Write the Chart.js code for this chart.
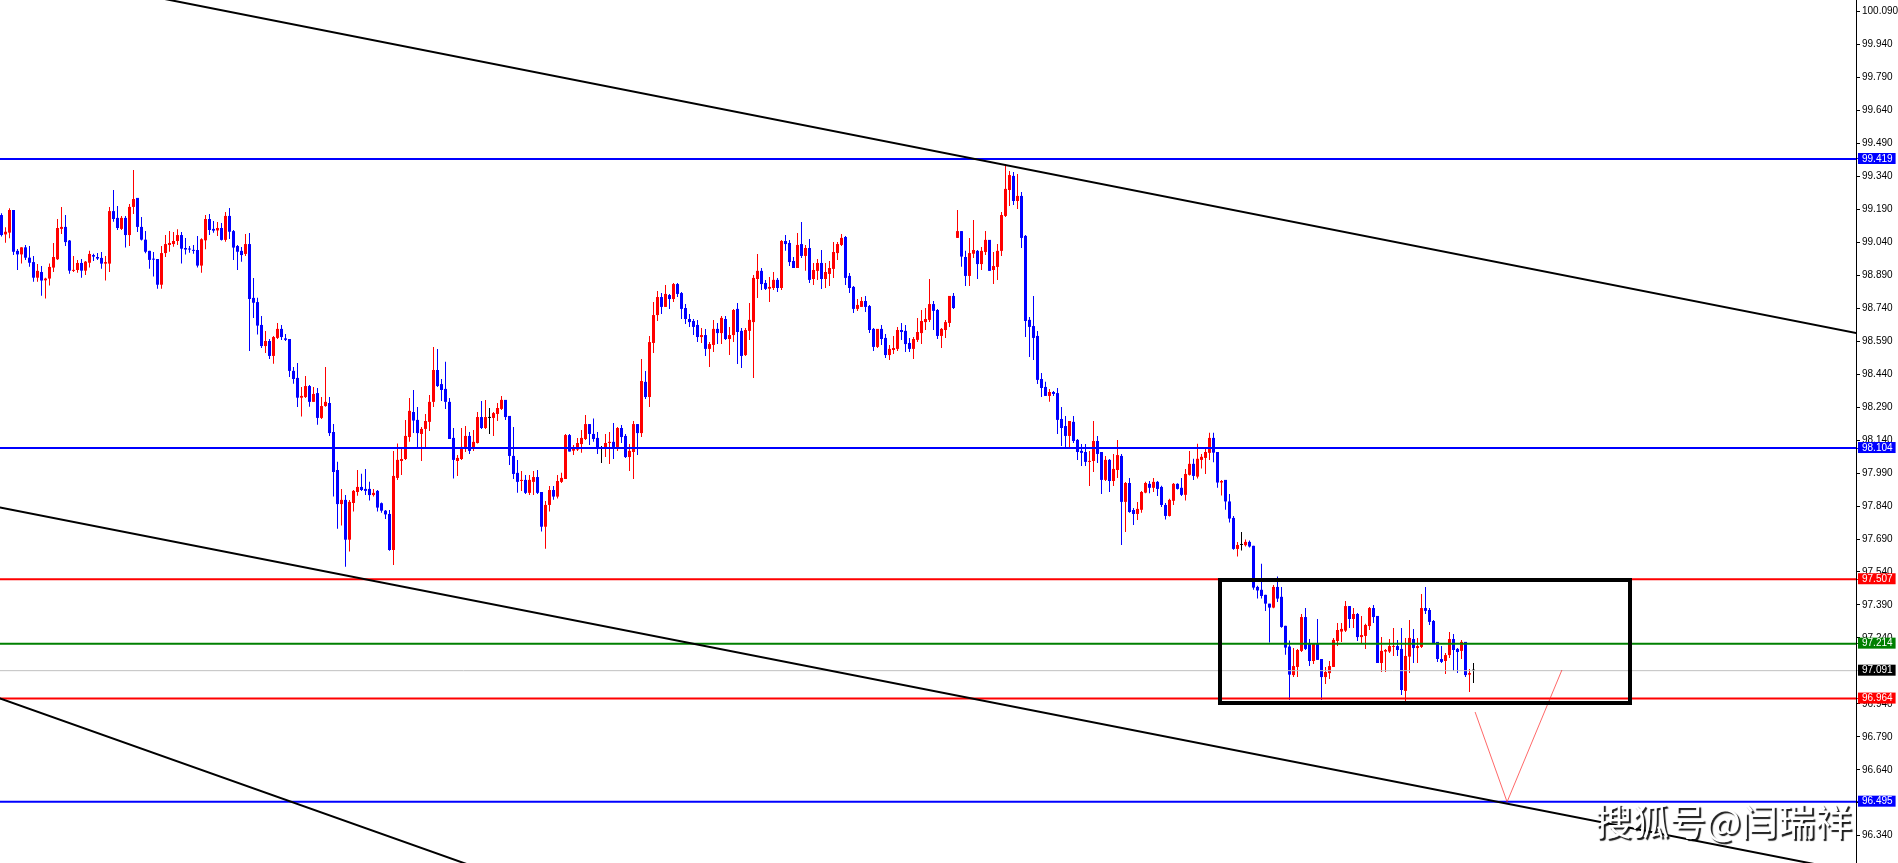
<!DOCTYPE html>
<html>
<head>
<meta charset="utf-8">
<script src="https://cdn.jsdelivr.net/npm/chart.js@4.4.1/dist/chart.umd.min.js"></script>
<style>
  html, body { margin: 0; padding: 0; background: #fff; }
  #wrap { width: 1898px; height: 863px; position: relative; }
</style>
</head>
<body>
<div id="wrap"><canvas id="priceChart"></canvas></div>
<script>
  // candles (price units)
  const opens = [
    99.164, 99.076, 99.084, 99.187, 99.001, 98.985, 99.017, 98.970, 98.950, 98.879,
    98.905, 98.867, 98.875, 98.925, 98.963, 99.101, 99.110, 99.048, 98.910, 98.914,
    98.946, 98.911, 98.947, 98.982, 98.973, 98.969, 98.943, 98.943, 99.182, 99.151,
    99.101, 99.151, 99.073, 99.201, 99.242, 99.110, 99.052, 99.001, 98.964, 98.964,
    98.847, 98.991, 99.028, 99.032, 99.046, 99.073, 99.014, 99.010, 99.005, 99.005,
    98.934, 99.049, 99.146, 99.101, 99.094, 99.105, 99.051, 99.160, 99.091, 99.023,
    99.001, 98.987, 99.032, 98.787, 98.768, 98.664, 98.568, 98.591, 98.523, 98.605,
    98.646, 98.603, 98.600, 98.455, 98.423, 98.333, 98.336, 98.386, 98.314, 98.354,
    98.241, 98.295, 98.309, 98.177, 98.004, 97.849, 97.868, 97.687, 97.854, 97.904,
    97.927, 97.918, 97.918, 97.890, 97.909, 97.853, 97.819, 97.804, 97.640, 97.968,
    98.045, 98.054, 98.154, 98.268, 98.232, 98.168, 98.191, 98.223, 98.314, 98.459,
    98.395, 98.373, 98.314, 98.150, 98.045, 98.054, 98.104, 98.159, 98.100, 98.127,
    98.245, 98.195, 98.241, 98.241, 98.259, 98.282, 98.323, 98.250, 98.068, 97.991,
    97.954, 97.959, 97.900, 97.950, 97.972, 97.904, 97.746, 97.845, 97.913, 97.883,
    97.950, 97.963, 98.163, 98.092, 98.097, 98.122, 98.145, 98.213, 98.168, 98.150,
    98.100, 98.100, 98.127, 98.132, 98.109, 98.195, 98.159, 98.063, 98.086, 98.213,
    98.172, 98.405, 98.336, 98.582, 98.709, 98.791, 98.746, 98.800, 98.782, 98.850,
    98.809, 98.741, 98.691, 98.682, 98.664, 98.609, 98.618, 98.555, 98.573, 98.646,
    98.627, 98.691, 98.600, 98.618, 98.737, 98.637, 98.527, 98.637, 98.677, 98.873,
    98.910, 98.855, 98.829, 98.832, 98.869, 98.832, 99.046, 99.037, 98.955, 98.923,
    99.032, 98.978, 99.014, 98.873, 98.910, 98.946, 98.873, 98.896, 98.919, 98.991,
    99.028, 99.064, 98.887, 98.837, 98.737, 98.746, 98.773, 98.750, 98.646, 98.564,
    98.646, 98.605, 98.527, 98.550, 98.555, 98.641, 98.637, 98.582, 98.555, 98.596,
    98.627, 98.677, 98.687, 98.759, 98.732, 98.614, 98.641, 98.673, 98.796, 99.060,
    99.091, 98.973, 98.887, 98.988, 99.001, 98.941, 98.996, 99.051, 98.914, 98.928,
    99.001, 99.160, 99.278, 99.342, 99.228, 99.251, 99.069, 98.687, 98.659, 98.614,
    98.418, 98.382, 98.341, 98.359, 98.354, 98.236, 98.204, 98.159, 98.223, 98.141,
    98.091, 98.086, 98.041, 98.045, 98.136, 98.086, 97.959, 98.050, 97.954, 98.004,
    98.068, 97.859, 97.945, 97.822, 97.804, 97.823, 97.901, 97.941, 97.923, 97.950,
    97.927, 97.845, 97.795, 97.864, 97.941, 97.923, 97.891, 97.982, 98.032, 97.974,
    98.050, 98.059, 98.082, 98.150, 98.086, 97.947, 97.959, 97.861, 97.786, 97.645,
    97.663, 97.662, 97.677, 97.659, 97.472, 97.459, 97.436, 97.396, 97.378, 97.472,
    97.427, 97.295, 97.201, 97.071, 97.108, 97.181, 97.335, 97.217, 97.135, 97.217,
    97.144, 97.062, 97.080, 97.108, 97.226, 97.269, 97.273, 97.385, 97.326, 97.349,
    97.244, 97.249, 97.294, 97.376, 97.340, 97.126, 97.178, 97.178, 97.199, 97.203,
    97.190, 96.999, 97.155, 97.235, 97.194, 97.199, 97.376, 97.367, 97.317, 97.222,
    97.144, 97.135, 97.162, 97.235, 97.190, 97.181, 97.222, 97.073, 97.091
  ]

  const highs = [
    99.172, 99.108, 99.195, 99.187, 99.010, 99.017, 99.028, 99.023, 98.978, 98.941,
    98.932, 98.879, 98.944, 99.037, 99.146, 99.201, 99.164, 99.051, 98.978, 98.960,
    98.964, 98.955, 99.001, 98.988, 98.991, 98.996, 98.978, 99.201, 99.278, 99.205,
    99.160, 99.160, 99.214, 99.369, 99.242, 99.155, 99.091, 99.001, 98.996, 98.964,
    99.023, 99.073, 99.091, 99.087, 99.099, 99.087, 99.060, 99.023, 99.028, 99.069,
    99.058, 99.164, 99.169, 99.137, 99.132, 99.128, 99.178, 99.196, 99.096, 99.028,
    99.019, 99.078, 99.082, 98.878, 98.788, 98.705, 98.637, 98.600, 98.614, 98.673,
    98.664, 98.623, 98.600, 98.473, 98.491, 98.382, 98.432, 98.391, 98.382, 98.377,
    98.336, 98.473, 98.336, 98.213, 98.042, 97.918, 97.890, 97.868, 97.913, 98.004,
    97.987, 98.009, 97.951, 97.918, 97.913, 97.856, 97.822, 97.822, 98.091, 98.125,
    98.109, 98.232, 98.332, 98.368, 98.291, 98.200, 98.259, 98.345, 98.564, 98.555,
    98.418, 98.496, 98.332, 98.195, 98.072, 98.195, 98.204, 98.177, 98.186, 98.268,
    98.318, 98.323, 98.286, 98.268, 98.309, 98.341, 98.323, 98.250, 98.200, 98.050,
    98.000, 97.981, 97.981, 98.000, 98.004, 97.904, 97.863, 97.931, 97.931, 97.981,
    97.991, 98.168, 98.168, 98.118, 98.150, 98.186, 98.254, 98.213, 98.238, 98.177,
    98.113, 98.168, 98.177, 98.218, 98.200, 98.209, 98.168, 98.122, 98.227, 98.213,
    98.509, 98.455, 98.614, 98.768, 98.819, 98.809, 98.846, 98.805, 98.855, 98.855,
    98.814, 98.759, 98.714, 98.691, 98.687, 98.650, 98.646, 98.586, 98.687, 98.673,
    98.705, 98.705, 98.655, 98.737, 98.764, 98.650, 98.650, 98.764, 98.891, 98.987,
    98.923, 98.869, 98.882, 98.905, 98.878, 99.051, 99.073, 99.051, 98.973, 99.082,
    99.132, 99.028, 99.055, 98.946, 98.964, 99.005, 98.946, 98.955, 99.041, 99.041,
    99.078, 99.069, 98.900, 98.841, 98.782, 98.791, 98.796, 98.755, 98.650, 98.646,
    98.664, 98.623, 98.573, 98.614, 98.655, 98.673, 98.664, 98.605, 98.609, 98.696,
    98.732, 98.741, 98.873, 98.773, 98.737, 98.650, 98.687, 98.796, 98.809, 99.187,
    99.091, 99.001, 99.060, 99.142, 99.005, 99.019, 99.091, 99.051, 98.996, 99.032,
    99.178, 99.396, 99.364, 99.360, 99.351, 99.269, 99.073, 98.700, 98.796, 98.637,
    98.445, 98.405, 98.373, 98.364, 98.377, 98.291, 98.250, 98.227, 98.250, 98.145,
    98.122, 98.122, 98.091, 98.227, 98.159, 98.086, 98.068, 98.054, 98.077, 98.141,
    98.077, 97.950, 97.968, 97.831, 97.859, 97.909, 97.951, 97.954, 97.968, 97.954,
    97.932, 97.854, 97.873, 97.945, 97.944, 97.968, 98.009, 98.091, 98.055, 98.123,
    98.077, 98.105, 98.173, 98.173, 98.086, 97.959, 97.959, 97.895, 97.795, 97.677,
    97.722, 97.688, 97.683, 97.659, 97.477, 97.577, 97.436, 97.396, 97.481, 97.519,
    97.472, 97.295, 97.228, 97.194, 97.190, 97.349, 97.376, 97.235, 97.217, 97.326,
    97.144, 97.108, 97.135, 97.240, 97.308, 97.308, 97.408, 97.385, 97.376, 97.353,
    97.340, 97.304, 97.381, 97.390, 97.340, 97.244, 97.190, 97.235, 97.285, 97.231,
    97.285, 97.240, 97.322, 97.281, 97.240, 97.440, 97.472, 97.376, 97.322, 97.222,
    97.203, 97.172, 97.267, 97.258, 97.194, 97.231, 97.222, 97.099, 97.126
  ]

  const lows = [
    99.066, 99.038, 99.058, 98.982, 98.914, 98.943, 98.960, 98.929, 98.861, 98.861,
    98.797, 98.784, 98.843, 98.905, 98.960, 99.078, 99.023, 98.897, 98.905, 98.902,
    98.879, 98.891, 98.925, 98.955, 98.960, 98.920, 98.866, 98.905, 99.134, 99.096,
    99.096, 99.016, 99.023, 99.169, 99.087, 99.048, 98.990, 98.920, 98.884, 98.829,
    98.829, 98.973, 98.997, 99.020, 99.028, 98.943, 98.984, 98.993, 98.988, 98.925,
    98.902, 99.008, 99.073, 99.084, 99.069, 99.048, 99.043, 99.055, 98.960, 98.914,
    98.952, 98.978, 98.546, 98.696, 98.620, 98.559, 98.536, 98.509, 98.488, 98.600,
    98.596, 98.591, 98.427, 98.397, 98.291, 98.247, 98.332, 98.292, 98.314, 98.210,
    98.236, 98.292, 98.159, 97.883, 97.737, 97.751, 97.564, 97.633, 97.815, 97.887,
    97.909, 97.890, 97.865, 97.883, 97.815, 97.810, 97.781, 97.637, 97.572, 97.959,
    97.981, 98.050, 98.132, 98.172, 98.104, 98.045, 98.104, 98.182, 98.291, 98.382,
    98.318, 98.282, 98.145, 97.965, 97.977, 98.050, 98.086, 98.077, 98.091, 98.125,
    98.191, 98.191, 98.168, 98.159, 98.227, 98.277, 98.232, 98.027, 97.963, 97.900,
    97.909, 97.895, 97.890, 97.890, 97.895, 97.724, 97.646, 97.815, 97.869, 97.874,
    97.945, 97.963, 98.088, 98.072, 98.091, 98.082, 98.141, 98.118, 98.132, 98.077,
    98.036, 98.063, 98.031, 98.054, 98.091, 98.127, 98.059, 98.000, 97.963, 98.072,
    98.154, 98.327, 98.291, 98.536, 98.682, 98.714, 98.746, 98.737, 98.768, 98.791,
    98.691, 98.668, 98.655, 98.618, 98.586, 98.582, 98.523, 98.473, 98.541, 98.577,
    98.577, 98.596, 98.527, 98.586, 98.486, 98.468, 98.523, 98.596, 98.423, 98.787,
    98.823, 98.823, 98.768, 98.823, 98.814, 98.823, 99.001, 98.932, 98.923, 98.923,
    98.969, 98.910, 98.855, 98.846, 98.869, 98.828, 98.832, 98.841, 98.878, 98.960,
    99.023, 98.846, 98.809, 98.718, 98.728, 98.746, 98.723, 98.627, 98.546, 98.559,
    98.573, 98.514, 98.505, 98.532, 98.546, 98.596, 98.541, 98.541, 98.509, 98.586,
    98.577, 98.641, 98.677, 98.641, 98.600, 98.559, 98.605, 98.655, 98.737, 99.060,
    98.929, 98.841, 98.841, 98.969, 98.873, 98.914, 98.982, 98.910, 98.850, 98.869,
    98.978, 99.155, 99.205, 99.210, 99.192, 99.014, 98.609, 98.518, 98.505, 98.395,
    98.336, 98.341, 98.314, 98.341, 98.168, 98.113, 98.104, 98.104, 98.127, 98.050,
    98.022, 98.022, 97.931, 97.995, 98.036, 97.895, 97.954, 97.904, 97.931, 97.968,
    97.663, 97.722, 97.809, 97.754, 97.777, 97.810, 97.898, 97.898, 97.904, 97.886,
    97.836, 97.779, 97.792, 97.845, 97.915, 97.886, 97.865, 97.979, 97.959, 97.965,
    98.011, 97.986, 98.050, 98.039, 97.923, 97.888, 97.823, 97.765, 97.641, 97.610,
    97.638, 97.656, 97.651, 97.459, 97.419, 97.419, 97.363, 97.219, 97.375, 97.404,
    97.286, 97.164, 96.958, 97.062, 97.062, 97.176, 97.185, 97.112, 97.121, 97.140,
    96.958, 97.030, 97.053, 97.108, 97.203, 97.222, 97.267, 97.285, 97.285, 97.226,
    97.212, 97.190, 97.276, 97.308, 97.126, 97.085, 97.085, 97.172, 97.158, 97.158,
    96.980, 96.953, 97.080, 97.126, 97.126, 97.194, 97.349, 97.299, 97.212, 97.131,
    97.126, 97.076, 97.149, 97.090, 97.080, 97.144, 97.062, 96.994, 97.035
  ]

  const closes = [
    99.073, 99.088, 99.187, 98.997, 98.985, 99.017, 98.970, 98.947, 98.879, 98.910,
    98.866, 98.875, 98.928, 98.973, 99.105, 99.110, 99.041, 98.911, 98.914, 98.946,
    98.911, 98.952, 98.987, 98.975, 98.966, 98.943, 98.950, 99.182, 99.146, 99.105,
    99.151, 99.073, 99.201, 99.237, 99.110, 99.052, 98.997, 98.960, 98.961, 98.847,
    98.991, 99.032, 99.037, 99.046, 99.073, 99.011, 99.007, 99.007, 99.001, 98.934,
    99.054, 99.146, 99.096, 99.093, 99.105, 99.051, 99.160, 99.088, 99.016, 98.997,
    98.982, 99.032, 98.782, 98.765, 98.661, 98.568, 98.591, 98.523, 98.609, 98.646,
    98.609, 98.596, 98.455, 98.418, 98.333, 98.341, 98.386, 98.314, 98.350, 98.241,
    98.295, 98.314, 98.172, 97.995, 97.849, 97.868, 97.687, 97.859, 97.909, 97.927,
    97.913, 97.909, 97.890, 97.900, 97.833, 97.819, 97.802, 97.640, 97.977, 98.050,
    98.054, 98.159, 98.273, 98.229, 98.172, 98.191, 98.227, 98.314, 98.459, 98.386,
    98.368, 98.314, 98.145, 98.050, 98.059, 98.109, 98.159, 98.091, 98.132, 98.245,
    98.195, 98.245, 98.241, 98.263, 98.286, 98.323, 98.245, 98.068, 97.986, 97.950,
    97.959, 97.900, 97.959, 97.972, 97.900, 97.746, 97.845, 97.913, 97.883, 97.954,
    97.968, 98.163, 98.088, 98.101, 98.127, 98.150, 98.213, 98.168, 98.145, 98.100,
    98.100, 98.127, 98.132, 98.109, 98.195, 98.154, 98.063, 98.091, 98.213, 98.172,
    98.409, 98.336, 98.586, 98.709, 98.791, 98.746, 98.805, 98.782, 98.850, 98.805,
    98.737, 98.691, 98.677, 98.655, 98.609, 98.618, 98.555, 98.577, 98.646, 98.627,
    98.696, 98.600, 98.618, 98.732, 98.632, 98.523, 98.641, 98.687, 98.878, 98.910,
    98.850, 98.828, 98.837, 98.869, 98.832, 99.046, 99.032, 98.950, 98.923, 99.028,
    98.978, 99.014, 98.869, 98.914, 98.946, 98.873, 98.905, 98.923, 98.996, 99.032,
    99.060, 98.878, 98.832, 98.737, 98.755, 98.773, 98.746, 98.641, 98.564, 98.646,
    98.600, 98.527, 98.555, 98.559, 98.641, 98.632, 98.577, 98.555, 98.600, 98.632,
    98.682, 98.691, 98.759, 98.728, 98.614, 98.646, 98.677, 98.796, 98.741, 99.091,
    98.975, 98.887, 98.991, 99.005, 98.941, 99.001, 99.051, 98.910, 98.932, 99.001,
    99.164, 99.283, 99.346, 99.228, 99.251, 99.060, 98.682, 98.655, 98.605, 98.414,
    98.377, 98.341, 98.359, 98.350, 98.232, 98.195, 98.159, 98.227, 98.136, 98.086,
    98.082, 98.041, 98.045, 98.136, 98.077, 97.959, 98.050, 97.954, 98.009, 98.072,
    97.859, 97.945, 97.813, 97.804, 97.827, 97.904, 97.945, 97.923, 97.950, 97.918,
    97.845, 97.795, 97.868, 97.941, 97.918, 97.891, 97.986, 98.032, 97.977, 98.055,
    98.064, 98.086, 98.150, 98.083, 97.947, 97.954, 97.861, 97.783, 97.645, 97.663,
    97.663, 97.677, 97.656, 97.469, 97.456, 97.431, 97.396, 97.378, 97.472, 97.419,
    97.290, 97.196, 97.073, 97.112, 97.185, 97.335, 97.190, 97.135, 97.217, 97.140,
    97.062, 97.085, 97.112, 97.231, 97.276, 97.281, 97.385, 97.326, 97.349, 97.244,
    97.253, 97.299, 97.376, 97.335, 97.126, 97.181, 97.185, 97.203, 97.203, 97.185,
    97.003, 97.158, 97.240, 97.194, 97.203, 97.376, 97.363, 97.313, 97.217, 97.144,
    97.131, 97.162, 97.235, 97.185, 97.176, 97.222, 97.071, 97.080, 97.091
  ]

  // price scale labels
  const axisTicks = [
    100.09, 99.94, 99.79, 99.64, 99.49, 99.34, 99.19, 99.04, 98.89, 98.74,
    98.59, 98.44, 98.29, 98.14, 97.99, 97.84, 97.69, 97.54, 97.39, 97.24,
    97.09, 96.94, 96.79, 96.64, 96.49, 96.34
  ]

  // horizontal levels drawn on the chart
  const levels = [99.419, 98.104, 97.507, 97.214, 97.091, 96.964, 96.495]

  // drawn objects as [bar index, price]
  const trendTop = [[-0.375, 100.295], [463.625, 98.627]]
  const trendMid = [[-0.375, 97.833], [463.625, 96.174]]
  const trendLow = [[-0.375, 96.965], [149.625, 95.996]]
  const rangeBox = [[304.625, 97.504], [407.125, 97.504], [407.125, 96.944], [304.625, 96.944], [304.625, 97.504]]
  const pathGuess = [[368.4, 96.903], [376.4, 96.494], [390.1, 97.094]]

  const watermark = "搜狐号@闫瑞祥"

  // styles
  const levelLine = ["#0000ff", "#0000ff", "#ff0000", "#008000", "#c0c0c0", "#ff0000", "#0000ff"]
  const levelBox = ["#0000ff", "#0000ff", "#ff0000", "#008000", "#000000", "#ff0000", "#0000ff"]

  const candleColors = opens.map((o, i) => {
    if (closes[i] > o) return "#ff0000"
    if (closes[i] < o) return "#0000ff"
    return "#000000"
  })

  const toXY = (pts) => pts.map((p) => ({ x: p[0], y: p[1] }))

  const levelSets = levels.map((v, k) => ({
    type: "line",
    data: [{ x: -2, y: v }, { x: 470, y: v }],
    borderColor: levelLine[k],
    borderWidth: k === 4 ? 1 : 2,
    pointRadius: 0,
    order: 1,
  }))

  const blackLine = (pts, w) => ({
    type: "line",
    data: toXY(pts),
    borderColor: "#000000",
    borderWidth: w,
    pointRadius: 0,
    borderJoinStyle: "miter",
    borderCapStyle: "square",
    order: 0,
  })

  const watermarkPlugin = {
    id: "watermark",
    afterDraw(chart) {
      const { ctx, chartArea } = chart
      ctx.save()
      ctx.font = '37px "Noto Sans CJK SC"'
      ctx.textAlign = "right"
      ctx.textBaseline = "alphabetic"
      ctx.shadowColor = "rgba(0,0,0,0.9)"
      ctx.shadowOffsetX = 2
      ctx.shadowOffsetY = 2
      ctx.shadowBlur = 1
      ctx.fillStyle = "#ffffff"
      ctx.fillText(watermark, chartArea.right - 4, chartArea.bottom - 27)
      ctx.restore()
    },
  }

  const nTicks = axisTicks.length
  const isLevel = (c) => c.index >= nTicks

  const ctx = document.getElementById("priceChart")

  new Chart(ctx, {
    type: "bar",
    data: {
      datasets: [
        {
          type: "bar",
          data: opens.map((o, i) => ({ x: i, y: [lows[i], highs[i]] })),
          backgroundColor: candleColors,
          barThickness: 1,
          grouped: false,
          inflateAmount: 0,
          minBarLength: 1,
          order: 3,
        },
        {
          type: "bar",
          data: opens.map((o, i) => ({ x: i, y: [o, closes[i]] })),
          backgroundColor: candleColors,
          barThickness: 3,
          grouped: false,
          inflateAmount: 0,
          minBarLength: 1,
          order: 2,
        },
        ...levelSets,
        blackLine(trendTop, 2),
        blackLine(trendMid, 2),
        blackLine(trendLow, 2),
        blackLine(rangeBox, 4),
        {
          type: "line",
          data: toXY(pathGuess),
          borderColor: "rgba(255,40,40,0.7)",
          borderWidth: 1,
          pointRadius: 0,
          order: 0,
        },
      ],
    },
    options: {
      responsive: true,
      maintainAspectRatio: false,
      animation: false,
      layout: { padding: 0 },
      plugins: {
        legend: { display: false },
        tooltip: { enabled: false },
      },
      scales: {
        x: {
          type: "linear",
          display: false,
          offset: false,
          min: -0.375,
          max: 463.625,
        },
        y: {
          type: "linear",
          position: "right",
          min: 96.216,
          max: 100.1424,
          afterBuildTicks: (scale) => {
            scale.ticks = axisTicks.concat(levels).map((v) => ({ value: v }))
          },
          afterFit: (scale) => {
            scale.width = 42
            scale.paddingTop = 0
            scale.paddingBottom = 0
          },
          border: { display: true, color: "#000000", width: 1 },
          grid: {
            display: true,
            drawOnChartArea: false,
            drawTicks: true,
            tickLength: 4,
            tickWidth: 1,
            tickColor: (c) => (isLevel(c) ? levelLine[c.index - nTicks] : "#000000"),
          },
          ticks: {
            autoSkip: false,
            padding: 2,
            color: (c) => (isLevel(c) ? "#ffffff" : "#000000"),
            font: { family: "Liberation Sans", size: 10, lineHeight: 1 },
            showLabelBackdrop: (c) => isLevel(c),
            backdropColor: (c) => (isLevel(c) ? levelBox[c.index - nTicks] : "rgba(0,0,0,0)"),
            backdropPadding: { top: 1, bottom: 0, left: 4, right: 3 },
            callback: (value) => Number(value).toFixed(3),
          },
        },
      },
    },
    plugins: [watermarkPlugin],
  })
</script>
</body>
</html>
